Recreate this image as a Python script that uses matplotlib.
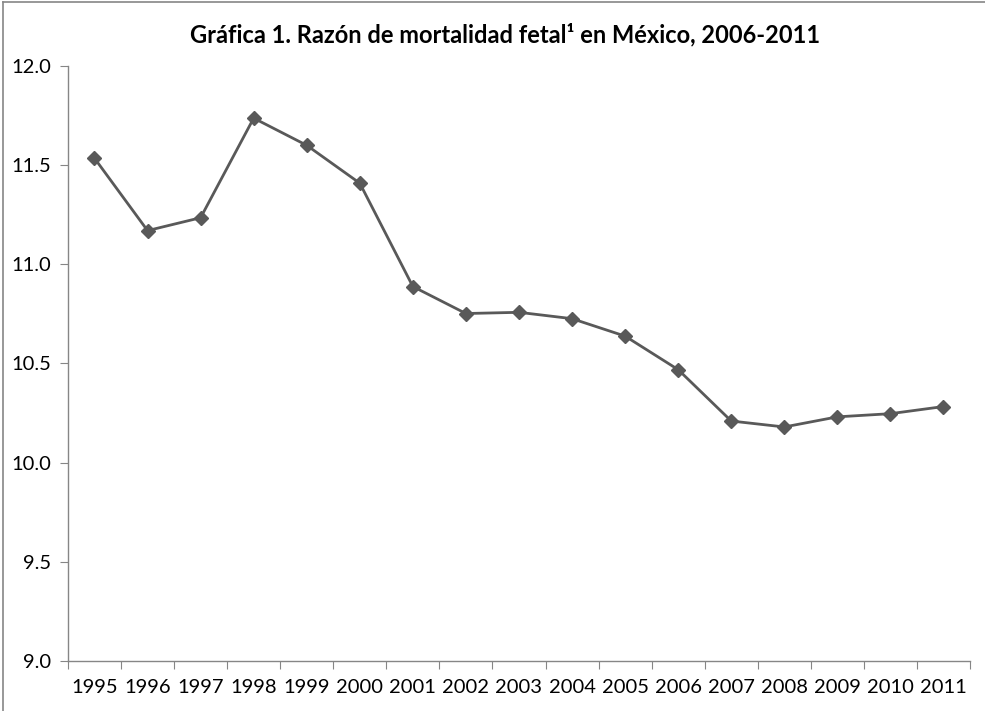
import matplotlib.pyplot as plt
import numpy as np
from matplotlib.lines import Line2D
from matplotlib.ticker import FixedLocator, StrMethodFormatter

# Datos
years = ['1995', '1996', '1997', '1998', '1999', '2000', '2001', '2002', '2003',
         '2004', '2005', '2006', '2007', '2008', '2009', '2010', '2011']
ratio = [11.535, 11.170, 11.235, 11.737, 11.600, 11.409, 10.888, 10.752, 10.758,
         10.726, 10.638, 10.469, 10.210, 10.180, 10.231, 10.247, 10.283]
yticks = [9.0, 9.5, 10.0, 10.5, 11.0, 11.5, 12.0]

plt.rcParams['font.family'] = ['Lato', 'DejaVu Sans']

fig = plt.figure(figsize=(9.85, 7.11), dpi=100)
ax = fig.add_axes([0.069, 0.0703, 0.9158, 0.8369])

x = np.arange(len(years))
ax.plot(x, ratio, color='#595959', linewidth=2.0, marker='D', markersize=7,
        markerfacecolor='#595959', markeredgecolor='#595959')

ax.set_xlim(-0.5, len(years) - 0.5)
ax.set_ylim(9.0, 12.0)

# ticks entre categorias, etiquetas al centro
ax.xaxis.set_major_locator(FixedLocator(np.arange(-0.5, len(years), 1.0)))
ax.xaxis.set_minor_locator(FixedLocator(x))
ax.set_xticklabels([], minor=False)
ax.set_xticklabels(years, minor=True)
ax.tick_params(axis='x', which='major', length=6, color='#868686', direction='out')
ax.tick_params(axis='x', which='minor', length=0, pad=13, labelsize=14.5)

ax.set_yticks(yticks)
ax.yaxis.set_major_formatter(StrMethodFormatter('{x:.1f}'))
ax.tick_params(axis='y', length=6, color='#868686', direction='out', labelsize=14.5, pad=6)

for s in ['top', 'right']:
    ax.spines[s].set_visible(False)
for s in ['left', 'bottom']:
    ax.spines[s].set_color('#868686')
    ax.spines[s].set_linewidth(1.0)

fig.text(0.513, 0.951, 'Gráfica 1. Razón de mortalidad fetal¹ en México, 2006-2011',
         ha='center', va='center', fontsize=17, fontweight='bold')

# borde del area del grafico
fig.add_artist(Line2D([0.003, 1.0], [0.997, 0.997], transform=fig.transFigure,
                      color='#868686', linewidth=1.2))
fig.add_artist(Line2D([0.003, 0.003], [0.0, 0.997], transform=fig.transFigure,
                      color='#868686', linewidth=1.2))

fig.savefig('out.png', dpi=100)
